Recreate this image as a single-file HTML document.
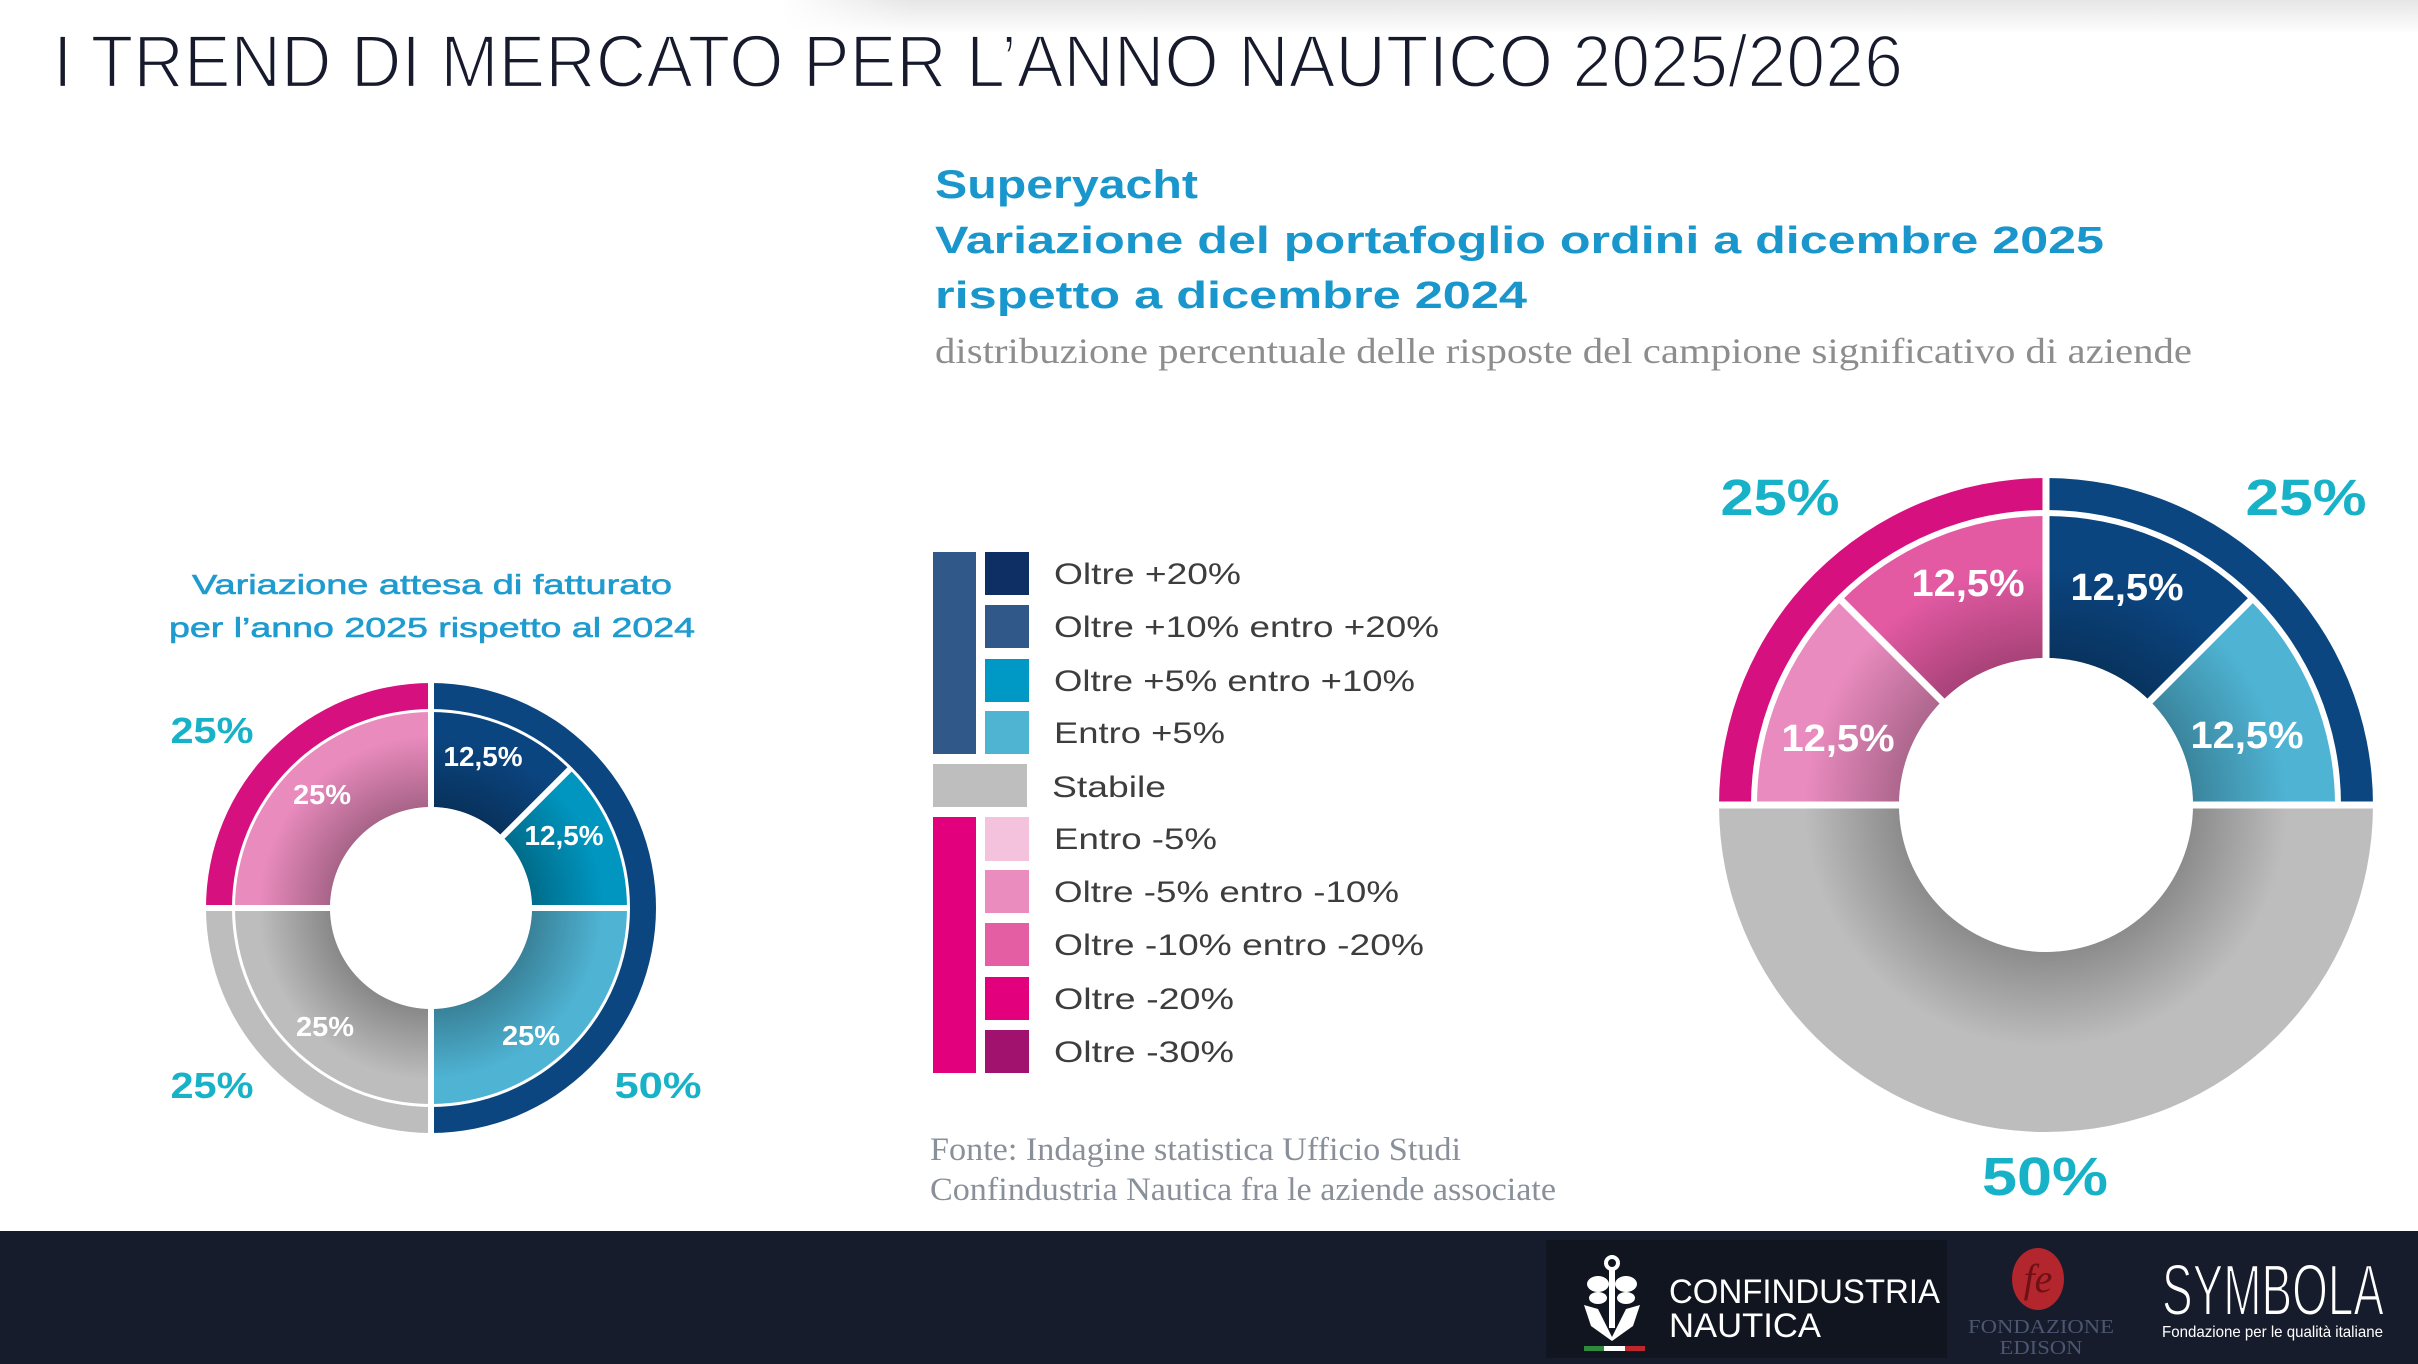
<!DOCTYPE html>
<html>
<head>
<meta charset="utf-8">
<style>
  html, body { margin: 0; padding: 0; background: #ffffff; }
  svg { display: block; }
</style>
</head>
<body>
<svg width="2418" height="1364" viewBox="0 0 2418 1364" xmlns="http://www.w3.org/2000/svg">
  <defs>
    <linearGradient id="topShade" x1="0" y1="0" x2="0" y2="1">
      <stop offset="0" stop-color="#e6e6e6"/>
      <stop offset="1" stop-color="#ffffff"/>
    </linearGradient>
    <linearGradient id="hFade" x1="0" y1="0" x2="1" y2="0">
      <stop offset="0" stop-color="#000"/>
      <stop offset="0.08" stop-color="#fff"/>
      <stop offset="1" stop-color="#fff"/>
    </linearGradient>
    <mask id="topMask" maskUnits="userSpaceOnUse" x="780" y="0" width="1638" height="34">
      <rect x="780" y="0" width="1638" height="34" fill="url(#hFade)"/>
    </mask>
    <radialGradient id="shL" gradientUnits="userSpaceOnUse" cx="431" cy="908" r="196">
      <stop offset="0.515" stop-color="#000" stop-opacity="0.28"/>
      <stop offset="0.88" stop-color="#000" stop-opacity="0"/>
    </radialGradient>
    <radialGradient id="shR" gradientUnits="userSpaceOnUse" cx="2046" cy="805" r="327">
      <stop offset="0.45" stop-color="#000" stop-opacity="0.26"/>
      <stop offset="0.74" stop-color="#000" stop-opacity="0"/>
    </radialGradient>
  </defs>

  <rect x="0" y="0" width="2418" height="1364" fill="#ffffff"/>
  <rect x="780" y="0" width="1638" height="34" fill="url(#topShade)" mask="url(#topMask)"/>

  <!-- Main title -->
  <text x="53" y="87" font-family="Liberation Sans, sans-serif" font-size="74" fill="#161a2c" stroke="#ffffff" stroke-width="2.2" textLength="1850" lengthAdjust="spacingAndGlyphs">I TREND DI MERCATO PER L’ANNO NAUTICO 2025/2026</text>

  <!-- Header right -->
  <g font-family="Liberation Sans, sans-serif" font-weight="bold" fill="#1996cc">
    <text x="935" y="198" font-size="40" textLength="263" lengthAdjust="spacingAndGlyphs">Superyacht</text>
    <text x="935" y="253" font-size="38" textLength="1169" lengthAdjust="spacingAndGlyphs">Variazione del portafoglio ordini a dicembre 2025</text>
    <text x="935" y="308" font-size="38" textLength="592" lengthAdjust="spacingAndGlyphs">rispetto a dicembre 2024</text>
  </g>
  <text x="935" y="363" font-family="Liberation Serif, serif" font-size="36" fill="#8d8d8d" textLength="1257" lengthAdjust="spacingAndGlyphs">distribuzione percentuale delle risposte del campione significativo di aziende</text>

  <!-- Left donut title -->
  <g font-family="Liberation Sans, sans-serif" font-size="28" fill="#1f9bcf" stroke="#1f9bcf" stroke-width="0.6" text-anchor="middle">
    <text x="432" y="594" textLength="480" lengthAdjust="spacingAndGlyphs">Variazione attesa di fatturato</text>
    <text x="432" y="637" textLength="526" lengthAdjust="spacingAndGlyphs">per l’anno 2025 rispetto al 2024</text>
  </g>

  <!-- LEFT DONUT -->
  <g>
    <path d="M206,908 A225,225 0 0 1 431,683 L431,709 A199,199 0 0 0 232,908 Z" fill="#d7107f"/>
    <path d="M431,683 A225,225 0 0 1 431,1133 L431,1107 A199,199 0 0 0 431,709 Z" fill="#0b4680"/>
    <path d="M431,1133 A225,225 0 0 1 206,908 L232,908 A199,199 0 0 0 431,1107 Z" fill="#bdbdbd"/>
    <path d="M235,908 A196,196 0 0 1 431,712 L431,807 A101,101 0 0 0 330,908 Z" fill="#e98bbd"/>
    <path d="M431,712 A196,196 0 0 1 569.6,769.4 L502.4,836.6 A101,101 0 0 0 431,807 Z" fill="#0b4580"/>
    <path d="M569.6,769.4 A196,196 0 0 1 627,908 L532,908 A101,101 0 0 0 502.4,836.6 Z" fill="#0096c0"/>
    <path d="M627,908 A196,196 0 0 1 431,1104 L431,1009 A101,101 0 0 0 532,908 Z" fill="#4fb4d4"/>
    <path d="M431,1104 A196,196 0 0 1 235,908 L330,908 A101,101 0 0 0 431,1009 Z" fill="#bdbdbd"/>
    <circle cx="431" cy="908" r="196" fill="url(#shL)"/>
    <circle cx="431" cy="908" r="101" fill="#ffffff"/>
    <g stroke="#ffffff" stroke-width="6">
      <line x1="431" y1="678" x2="431" y2="1138"/>
      <line x1="201" y1="908" x2="431" y2="908"/>
      <line x1="431" y1="908" x2="628" y2="908"/>
      <line x1="431" y1="908" x2="571" y2="768"/>
    </g>
    <g font-family="Liberation Sans, sans-serif" font-weight="bold" fill="#ffffff" font-size="28" text-anchor="middle">
      <text x="483" y="766" textLength="79" lengthAdjust="spacingAndGlyphs">12,5%</text>
      <text x="564" y="845" textLength="79" lengthAdjust="spacingAndGlyphs">12,5%</text>
      <text x="322" y="804" textLength="58" lengthAdjust="spacingAndGlyphs">25%</text>
      <text x="325" y="1036" textLength="58" lengthAdjust="spacingAndGlyphs">25%</text>
      <text x="531" y="1045" textLength="58" lengthAdjust="spacingAndGlyphs">25%</text>
    </g>
    <g font-family="Liberation Sans, sans-serif" font-weight="bold" fill="#17b2c7" font-size="36" text-anchor="middle">
      <text x="212" y="743" textLength="83" lengthAdjust="spacingAndGlyphs">25%</text>
      <text x="212" y="1098" textLength="83" lengthAdjust="spacingAndGlyphs">25%</text>
      <text x="658" y="1098" textLength="87" lengthAdjust="spacingAndGlyphs">50%</text>
    </g>
  </g>

  <!-- LEGEND -->
  <g>
    <rect x="933" y="552" width="43" height="202" fill="#30598a"/>
    <rect x="933" y="764" width="94" height="43" fill="#bebebe"/>
    <rect x="933" y="817" width="43" height="256" fill="#e3007d"/>

    <rect x="985" y="552" width="44" height="43" fill="#0e2f63"/>
    <rect x="985" y="605" width="44" height="43" fill="#30598a"/>
    <rect x="985" y="659" width="44" height="43" fill="#0098c4"/>
    <rect x="985" y="711" width="44" height="43" fill="#4fb3d2"/>
    <rect x="985" y="817" width="44" height="44" fill="#f4c2dc"/>
    <rect x="985" y="870" width="44" height="43" fill="#eb8cbf"/>
    <rect x="985" y="923" width="44" height="43" fill="#e35ea3"/>
    <rect x="985" y="977" width="44" height="43" fill="#e3007d"/>
    <rect x="985" y="1030" width="44" height="43" fill="#a0126e"/>

    <g font-family="Liberation Sans, sans-serif" font-size="30" fill="#3d3d3d">
      <text x="1054" y="584" textLength="187" lengthAdjust="spacingAndGlyphs">Oltre +20%</text>
      <text x="1054" y="637" textLength="385" lengthAdjust="spacingAndGlyphs">Oltre +10% entro +20%</text>
      <text x="1054" y="691" textLength="361" lengthAdjust="spacingAndGlyphs">Oltre +5% entro +10%</text>
      <text x="1054" y="743" textLength="171" lengthAdjust="spacingAndGlyphs">Entro +5%</text>
      <text x="1052" y="797" textLength="114" lengthAdjust="spacingAndGlyphs">Stabile</text>
      <text x="1054" y="849" textLength="163" lengthAdjust="spacingAndGlyphs">Entro -5%</text>
      <text x="1054" y="902" textLength="345" lengthAdjust="spacingAndGlyphs">Oltre -5% entro -10%</text>
      <text x="1054" y="955" textLength="370" lengthAdjust="spacingAndGlyphs">Oltre -10% entro -20%</text>
      <text x="1054" y="1009" textLength="180" lengthAdjust="spacingAndGlyphs">Oltre -20%</text>
      <text x="1054" y="1062" textLength="180" lengthAdjust="spacingAndGlyphs">Oltre -30%</text>
    </g>
  </g>

  <!-- Fonte -->
  <g font-family="Liberation Serif, serif" font-size="33" fill="#8a9099">
    <text x="930" y="1160" textLength="531" lengthAdjust="spacingAndGlyphs">Fonte: Indagine statistica Ufficio Studi</text>
    <text x="930" y="1200" textLength="626" lengthAdjust="spacingAndGlyphs">Confindustria Nautica fra le aziende associate</text>
  </g>

  <!-- RIGHT DONUT -->
  <g>
    <path d="M1719,805 A327,327 0 0 1 2046,478 L2046,510 A295,295 0 0 0 1751,805 Z" fill="#d7107f"/>
    <path d="M2046,478 A327,327 0 0 1 2373,805 L2341,805 A295,295 0 0 0 2046,510 Z" fill="#0b4680"/>
    <path d="M2373,805 A327,327 0 0 1 1719,805 L1899,805 A147,147 0 0 0 2193,805 Z" fill="#bdbdbd"/>
    <path d="M1757,805 A289,289 0 0 1 1841.6,600.6 L1942.1,701.1 A147,147 0 0 0 1899,805 Z" fill="#ea8bbf"/>
    <path d="M1841.6,600.6 A289,289 0 0 1 2046,516 L2046,658 A147,147 0 0 0 1942.1,701.1 Z" fill="#e35aa3"/>
    <path d="M2046,516 A289,289 0 0 1 2250.4,600.6 L2149.9,701.1 A147,147 0 0 0 2046,658 Z" fill="#0b4580"/>
    <path d="M2250.4,600.6 A289,289 0 0 1 2335,805 L2193,805 A147,147 0 0 0 2149.9,701.1 Z" fill="#4fb4d4"/>
    <circle cx="2046" cy="805" r="327" fill="url(#shR)"/>
    <circle cx="2046" cy="805" r="147" fill="#ffffff"/>
    <g stroke="#ffffff" stroke-width="7">
      <line x1="2046" y1="474" x2="2046" y2="805"/>
      <line x1="1714" y1="805" x2="2378" y2="805"/>
      <line x1="2046" y1="805" x2="1839" y2="598"/>
      <line x1="2046" y1="805" x2="2253" y2="598"/>
    </g>
    <g font-family="Liberation Sans, sans-serif" font-weight="bold" fill="#ffffff" font-size="38" text-anchor="middle">
      <text x="1968" y="596" textLength="113" lengthAdjust="spacingAndGlyphs">12,5%</text>
      <text x="2127" y="600" textLength="113" lengthAdjust="spacingAndGlyphs">12,5%</text>
      <text x="1838" y="751" textLength="113" lengthAdjust="spacingAndGlyphs">12,5%</text>
      <text x="2247" y="748" textLength="113" lengthAdjust="spacingAndGlyphs">12,5%</text>
    </g>
    <g font-family="Liberation Sans, sans-serif" font-weight="bold" fill="#17b2c7" text-anchor="middle">
      <text x="1780" y="515" font-size="51" textLength="119" lengthAdjust="spacingAndGlyphs">25%</text>
      <text x="2306" y="515" font-size="51" textLength="121" lengthAdjust="spacingAndGlyphs">25%</text>
      <text x="2045" y="1195" font-size="54" textLength="126" lengthAdjust="spacingAndGlyphs">50%</text>
    </g>
  </g>

  <!-- FOOTER -->
  <rect x="0" y="1231" width="2418" height="133" fill="#171c2c"/>
  <rect x="1546" y="1240" width="401" height="118" fill="#11151f"/>

  <g fill="#ffffff">
    <circle cx="1612" cy="1263" r="6" fill="none" stroke="#ffffff" stroke-width="4"/>
    <rect x="1609" y="1270" width="6" height="58"/>
    <ellipse cx="1598" cy="1284" rx="11" ry="8"/>
    <ellipse cx="1626" cy="1284" rx="11" ry="8"/>
    <ellipse cx="1598" cy="1298" rx="9" ry="6"/>
    <ellipse cx="1626" cy="1298" rx="9" ry="6"/>
    <path d="M1584,1305 L1598,1309 L1612,1337 L1626,1309 L1640,1305 L1633,1326 L1612,1341 L1591,1326 Z"/>
  </g>
  <rect x="1584" y="1346" width="20" height="5" fill="#2e8b3e"/>
  <rect x="1604" y="1346" width="21" height="5" fill="#ffffff"/>
  <rect x="1625" y="1346" width="20" height="5" fill="#c0262d"/>
  <g font-family="Liberation Sans, sans-serif" font-size="34" fill="#ffffff">
    <text x="1669" y="1303" textLength="271" lengthAdjust="spacingAndGlyphs">CONFINDUSTRIA</text>
    <text x="1669" y="1337" textLength="152" lengthAdjust="spacingAndGlyphs">NAUTICA</text>
  </g>

  <ellipse cx="2038" cy="1279" rx="26" ry="31" fill="#b3262d"/>
  <text x="2038" y="1292" font-family="Liberation Serif, serif" font-style="italic" font-size="40" fill="#6e1015" text-anchor="middle">fe</text>
  <g font-family="Liberation Serif, serif" font-size="20" fill="#4b5670" text-anchor="middle">
    <text x="2041" y="1333" textLength="146" lengthAdjust="spacingAndGlyphs">FONDAZIONE</text>
    <text x="2041" y="1354" textLength="83" lengthAdjust="spacingAndGlyphs">EDISON</text>
  </g>

  <text x="2162" y="1315" font-family="Liberation Sans, sans-serif" font-size="72" fill="#ffffff" stroke="#171c2c" stroke-width="2" textLength="222" lengthAdjust="spacingAndGlyphs">SYMBOLA</text>
  <text x="2162" y="1337" font-family="Liberation Sans, sans-serif" font-size="16" fill="#ffffff" textLength="221" lengthAdjust="spacingAndGlyphs">Fondazione per le qualità italiane</text>
</svg>
</body>
</html>
